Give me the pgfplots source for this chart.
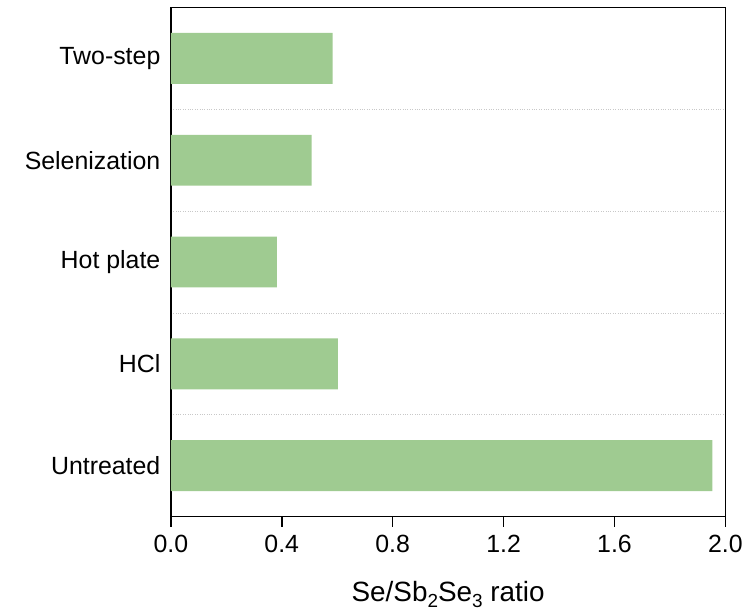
\documentclass[border=0pt]{standalone}
\usepackage{pgfplots}
\pgfplotsset{compat=1.18}
\usepackage{fontspec}
\setmainfont{Liberation Sans}
\definecolor{barGreen}{RGB}{159,203,145}
\definecolor{gridGray}{RGB}{200,200,200}
% lowered subscript for the chemical formula in the axis label
\newcommand{\chemsub}[1]{\raisebox{-6bp}{\fontsize{19}{20}\selectfont #1}}
\begin{document}
\begin{tikzpicture}
\begin{axis}[
  name=ax,
  scale only axis,
  width=555bp, height=509.5bp,
  xbar, bar width=0.5,
  xmin=0, xmax=2, ymin=-0.5, ymax=4.5,
  xtick={0,0.4,0.8,1.2,1.6,2.0},
  xticklabels={0.0,0.4,0.8,1.2,1.6,2.0},
  ytick={0,1,2,3,4},
  yticklabels={Untreated,HCl,Hot plate,Selenization,Two-step},
  minor ytick={0.5,1.5,2.5,3.5},
  yminorgrids,
  minor grid style={gridGray, dotted, line width=0.8bp},
  axis line style={line width=1.5bp},
  tick label style={font=\fontsize{25}{30}\selectfont},
  xticklabel style={yshift=-5bp},
  yticklabel style={xshift=3bp},
  /pgf/number format/assume math mode=true,
  xtick pos=bottom,
  tick align=outside,
  major tick length=10bp,
  minor tick length=0pt,
  xtick style={line width=1.5bp, black},
  ytick style={draw=none},
  xlabel={Se/Sb\chemsub{2}Se\chemsub{3} ratio},
  xlabel style={font=\fontsize{28}{32}\selectfont, at={(axis description cs:0.5,0)}, anchor=base, yshift=-85bp},
]
\addplot[fill=barGreen, draw=none] coordinates {(1.953,0) (0.602,1) (0.382,2) (0.508,3) (0.583,4)};
\end{axis}
\path ([shift={(-171bp,-95bp)}]ax.south west) rectangle ([shift={(20bp,7.5bp)}]ax.north east);
\end{tikzpicture}
\end{document}
